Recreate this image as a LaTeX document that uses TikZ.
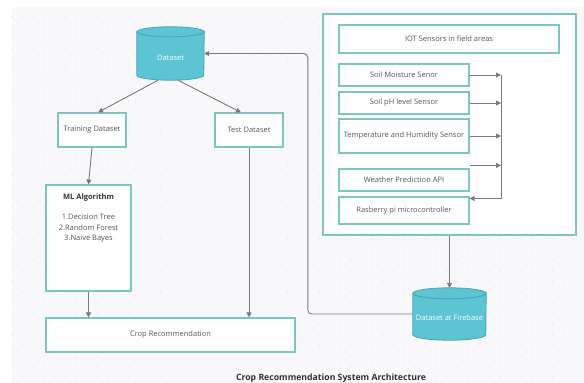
\documentclass[tikz,border=0pt]{standalone}
\usepackage{fontspec}
\setmainfont{Open Sans}
\usetikzlibrary{arrows.meta,calc}
\definecolor{teal1}{HTML}{7CC7BD}
\definecolor{cylf}{HTML}{5CC4D3}
\definecolor{cyld}{HTML}{43A6B5}
\definecolor{arr}{HTML}{7A7A7A}
\definecolor{txt}{HTML}{555555}
\definecolor{txtdark}{HTML}{333333}
\definecolor{bg}{HTML}{F8F8FA}
\definecolor{dotc}{HTML}{E2E2E9}
\newcommand\cylshape[3]{%
  \path[fill=cylf, draw=cyld, line width=0.8pt]
    ($(#1.north west)+(0,#3)$) -- ($(#1.south west)+(0,-#3)$)
    arc[start angle=180, end angle=0, x radius=#2, y radius=#3]
    -- ($(#1.north east)+(0,#3)$)
    arc[start angle=0, end angle=180, x radius=#2, y radius=#3] -- cycle;
  \draw[cyld, line width=0.8pt, fill=cylf] ($(#1.north)+(0,#3)$) ellipse[x radius=#2, y radius=#3];
}
\begin{document}
\begin{tikzpicture}[x=1pt,y=-1pt,
  box/.style={draw=teal1, line width=1.1pt, fill=white, inner sep=0pt, text=txt,
    font=\fontsize{7.5}{9}\selectfont},
  cylnode/.style={inner sep=0pt},
  cyltext/.style={inner sep=0pt, text=white, font=\fontsize{7.5}{9}\selectfont},
  conn/.style={draw=arr, line width=0.9pt, -{Triangle[length=5pt,width=5pt]}},
  ]
\useasboundingbox (0,0) rectangle (584,383);
\fill[white] (0,0) rectangle (584,383);
\fill[bg] (12,7) rectangle (584,383);
\foreach \i in {0,...,54} \foreach \j in {1,...,36} \fill[dotc] (12+10.6*\i, 6+10.6*\j) circle[radius=0.65];

% left side
\node[cylnode, minimum width=67pt, minimum height=53pt] (ds) at (170.5,53.5) {};
\cylshape{ds}{33.5}{5}
\node[cyltext] (dstext) at ($(ds.center)+(0,4.5)$) {Dataset};

\node[box, minimum width=68pt, minimum height=34pt] (tr) at (92,130) {Training Dataset};
\node[box, minimum width=68pt, minimum height=34pt] (te) at (249,130) {Test Dataset};
\node[box, minimum width=85pt, minimum height=106pt] (ml) at (88.5,238) {};
\node[inner sep=0pt, text=txt, align=center, anchor=north, font=\fontsize{7.5}{10.5}\selectfont]
  (mltext) at (88.5,194) {{\bfseries\color{txtdark}ML Algorithm}\\[9.5pt]1.Decision Tree\\2.Random Forest\\3.Naive Bayes};
\node[box, minimum width=249pt, minimum height=34pt] (cr) at (170.5,335) {Crop Recommendation};

% right side
\node[box, minimum width=253pt, minimum height=221pt] (iot) at (449.5,124.5) {};
\node[box, minimum width=220pt, minimum height=28pt] (it) at (449,39) {IOT Sensors in field areas};
\node[box, minimum width=130pt, minimum height=22pt] (sm) at (404,75) {Soil Moisture Senor};
\node[box, minimum width=130pt, minimum height=22pt] (ph) at (404,103) {Soil pH level Sensor};
\node[box, minimum width=130pt, minimum height=34pt] (tp) at (404,136) {Temperature and Humidity Sensor};
\node[box, minimum width=130pt, minimum height=22pt] (wp) at (404,180) {Weather Prediction API};
\node[box, minimum width=130pt, minimum height=27pt] (rp) at (404,210.5) {Rasberry pi microcontroller};

\node[cylnode, minimum width=73pt, minimum height=52pt] (fb) at (449.5,314) {};
\cylshape{fb}{36.5}{5.5}
\node[cyltext] (fbtext) at ($(fb.center)+(0,4)$) {Dataset at Firebase};

% connectors
\draw[conn] ($(ds.south)+(-12.5,0)$) -- ($(tr.north)+(6,0)$);
\draw[conn] ($(ds.south)+(7.5,0)$) -- ($(te.north)+(-8,0)$);
\draw[conn] (tr.south) -- (ml.north);
\draw[conn] (ml.south) -- (ml.south |- cr.north);
\draw[conn] (te.south) -- (te.south |- cr.north);
\draw[conn, rounded corners=4pt] (fb.west) -- ++(-105,0) |- (ds.east);
\draw[conn] (iot.south) -- (fb.north);

\coordinate (bus) at (501,75);
\draw[conn] (sm.east) -- (sm.east -| bus);
\draw[conn] (ph.east) -- (ph.east -| bus);
\draw[conn] (tp.east) -- (tp.east -| bus);
\coordinate (wpout) at ($(wp.north east)+(0,-3)$);
\draw[conn] (wpout) -- (wpout -| bus);
\coordinate (rpin) at ($(rp.north east)+(0,2)$);
\draw[conn] (bus) -- (bus |- rpin) -- (rpin);

\node[anchor=base, inner sep=0pt, text=txtdark, font=\bfseries\fontsize{8.7}{10}\selectfont]
  (title) at (331,380.3) {Crop Recommendation System Architecture};
\end{tikzpicture}
\end{document}
